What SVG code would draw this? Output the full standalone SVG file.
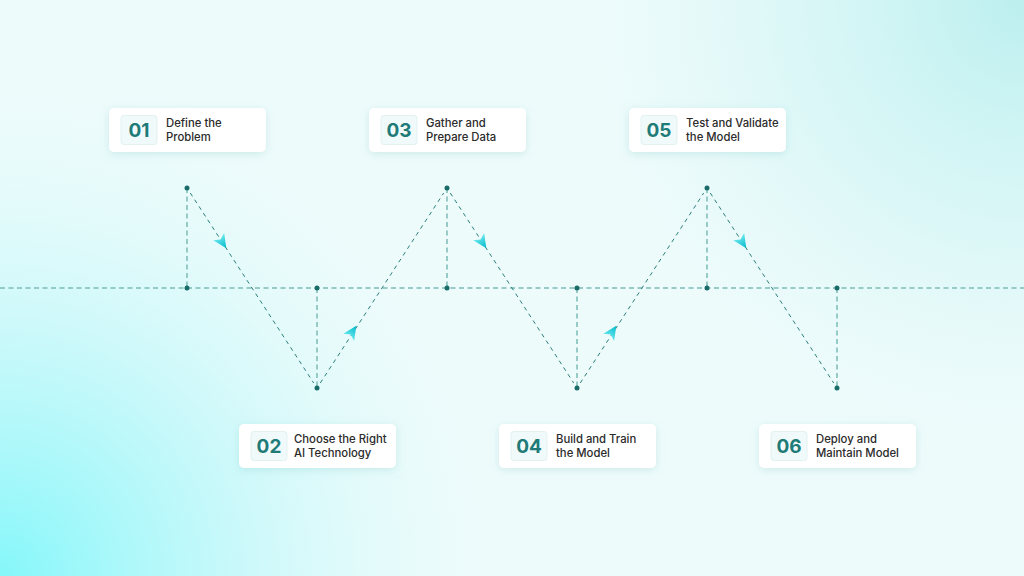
<svg xmlns="http://www.w3.org/2000/svg" width="1024" height="576" viewBox="0 0 1024 576">
  <defs>
    <radialGradient id="bgBL" cx="0" cy="576" r="520" gradientUnits="userSpaceOnUse">
      <stop offset="0" stop-color="#85f7fa"/>
      <stop offset="0.45" stop-color="#bff8fa" stop-opacity="0.8"/>
      <stop offset="1" stop-color="#e9fbfb" stop-opacity="0"/>
    </radialGradient>
    <radialGradient id="bgTR" cx="1024" cy="0" r="500" gradientUnits="userSpaceOnUse">
      <stop offset="0" stop-color="#bcefef"/>
      <stop offset="0.5" stop-color="#d6f6f6" stop-opacity="0.7"/>
      <stop offset="1" stop-color="#eefbfb" stop-opacity="0"/>
    </radialGradient>
    <linearGradient id="arrowGrad" x1="-7" y1="0" x2="7" y2="0" gradientUnits="userSpaceOnUse">
      <stop offset="0" stop-color="#6ae8ef"/>
      <stop offset="1" stop-color="#00b8c8"/>
    </linearGradient>
    <filter id="shadow" x="-20%" y="-40%" width="140%" height="180%">
      <feDropShadow dx="0" dy="2" stdDeviation="4" flood-color="#6fb9b9" flood-opacity="0.25"/>
    </filter>
    <path id="arrow" d="M7,0 L-7,-6.5 L-3.5,0 L-7,6.5 Z" fill="url(#arrowGrad)"/>
  </defs>
  <style>
    .card { fill: #ffffff; filter: url(#shadow); }
    .badge { fill: #f1fafa; stroke: #e3f1f1; stroke-width: 1; }
    .num { font-family: Inter, "Liberation Sans", sans-serif; font-weight: 700; font-size: 19px; fill: #1f7b78; text-anchor: middle; }
    .lbl { font-family: Inter, "Liberation Sans", sans-serif; font-weight: 500; font-size: 11.3px; fill: #2b2b2b; }
    .axis { stroke: #7cbcb8; stroke-width: 1.5; stroke-dasharray: 5 3.5; fill: none; }
    .diag { stroke: #2b7f7b; stroke-width: 1; stroke-dasharray: 4 4; fill: none; }
    .dot { fill: #1a6c69; }
  </style>

  <rect x="0" y="0" width="1024" height="576" fill="#eefbfb"/>
  <rect x="0" y="0" width="1024" height="576" fill="url(#bgTR)"/>
  <rect x="0" y="0" width="1024" height="576" fill="url(#bgBL)"/>

  <g id="connectors">
    <line class="axis" x1="0" y1="288" x2="1024" y2="288"/>
    <line class="axis" x1="187" y1="188" x2="187" y2="288"/>
    <line class="axis" x1="317" y1="288" x2="317" y2="388"/>
    <line class="axis" x1="447" y1="188" x2="447" y2="288"/>
    <line class="axis" x1="577" y1="288" x2="577" y2="388"/>
    <line class="axis" x1="707" y1="188" x2="707" y2="288"/>
    <line class="axis" x1="837" y1="288" x2="837" y2="388"/>

    <line class="diag" x1="190.3" y1="193" x2="313.7" y2="383"/>
    <line class="diag" x1="320.3" y1="383" x2="443.7" y2="193"/>
    <line class="diag" x1="450.3" y1="193" x2="573.7" y2="383"/>
    <line class="diag" x1="580.3" y1="383" x2="703.7" y2="193"/>
    <line class="diag" x1="710.3" y1="193" x2="833.7" y2="383"/>

    <use href="#arrow" transform="translate(222.5,242.5) rotate(57)"/>
    <use href="#arrow" transform="translate(352.5,331.5) rotate(-57)"/>
    <use href="#arrow" transform="translate(482.5,242.5) rotate(57)"/>
    <use href="#arrow" transform="translate(612.5,331.5) rotate(-57)"/>
    <use href="#arrow" transform="translate(742.5,242.5) rotate(57)"/>

    <circle class="dot" cx="187" cy="188" r="2.5"/>
    <circle class="dot" cx="187" cy="288" r="2.5"/>
    <circle class="dot" cx="317" cy="288" r="2.5"/>
    <circle class="dot" cx="317" cy="388" r="2.5"/>
    <circle class="dot" cx="447" cy="188" r="2.5"/>
    <circle class="dot" cx="447" cy="288" r="2.5"/>
    <circle class="dot" cx="577" cy="288" r="2.5"/>
    <circle class="dot" cx="577" cy="388" r="2.5"/>
    <circle class="dot" cx="707" cy="188" r="2.5"/>
    <circle class="dot" cx="707" cy="288" r="2.5"/>
    <circle class="dot" cx="837" cy="288" r="2.5"/>
    <circle class="dot" cx="837" cy="388" r="2.5"/>
  </g>

  <g id="step1" transform="translate(109,108)">
    <rect class="card" x="0" y="0" width="157" height="44" rx="5"/>
    <rect class="badge" x="12" y="7.5" width="36" height="29" rx="3"/>
    <text class="num" x="30" y="28.5">01</text>
    <text class="lbl" x="57" y="19">Define the</text>
    <text class="lbl" x="57" y="33">Problem</text>
  </g>

  <g id="step2" transform="translate(239,424)">
    <rect class="card" x="0" y="0" width="157" height="44" rx="5"/>
    <rect class="badge" x="12" y="7.5" width="36" height="29" rx="3"/>
    <text class="num" x="30" y="28.5">02</text>
    <text class="lbl" x="55" y="19">Choose the Right</text>
    <text class="lbl" x="55" y="33">AI Technology</text>
  </g>

  <g id="step3" transform="translate(369,108)">
    <rect class="card" x="0" y="0" width="157" height="44" rx="5"/>
    <rect class="badge" x="12" y="7.5" width="36" height="29" rx="3"/>
    <text class="num" x="30" y="28.5">03</text>
    <text class="lbl" x="57" y="19">Gather and</text>
    <text class="lbl" x="57" y="33">Prepare Data</text>
  </g>

  <g id="step4" transform="translate(499,424)">
    <rect class="card" x="0" y="0" width="157" height="44" rx="5"/>
    <rect class="badge" x="12" y="7.5" width="36" height="29" rx="3"/>
    <text class="num" x="30" y="28.5">04</text>
    <text class="lbl" x="57" y="19">Build and Train</text>
    <text class="lbl" x="57" y="33">the Model</text>
  </g>

  <g id="step5" transform="translate(629,108)">
    <rect class="card" x="0" y="0" width="157" height="44" rx="5"/>
    <rect class="badge" x="12" y="7.5" width="36" height="29" rx="3"/>
    <text class="num" x="30" y="28.5">05</text>
    <text class="lbl" x="57" y="19">Test and Validate</text>
    <text class="lbl" x="57" y="33">the Model</text>
  </g>

  <g id="step6" transform="translate(759,424)">
    <rect class="card" x="0" y="0" width="157" height="44" rx="5"/>
    <rect class="badge" x="12" y="7.5" width="36" height="29" rx="3"/>
    <text class="num" x="30" y="28.5">06</text>
    <text class="lbl" x="57" y="19">Deploy and</text>
    <text class="lbl" x="57" y="33">Maintain Model</text>
  </g>
</svg>
